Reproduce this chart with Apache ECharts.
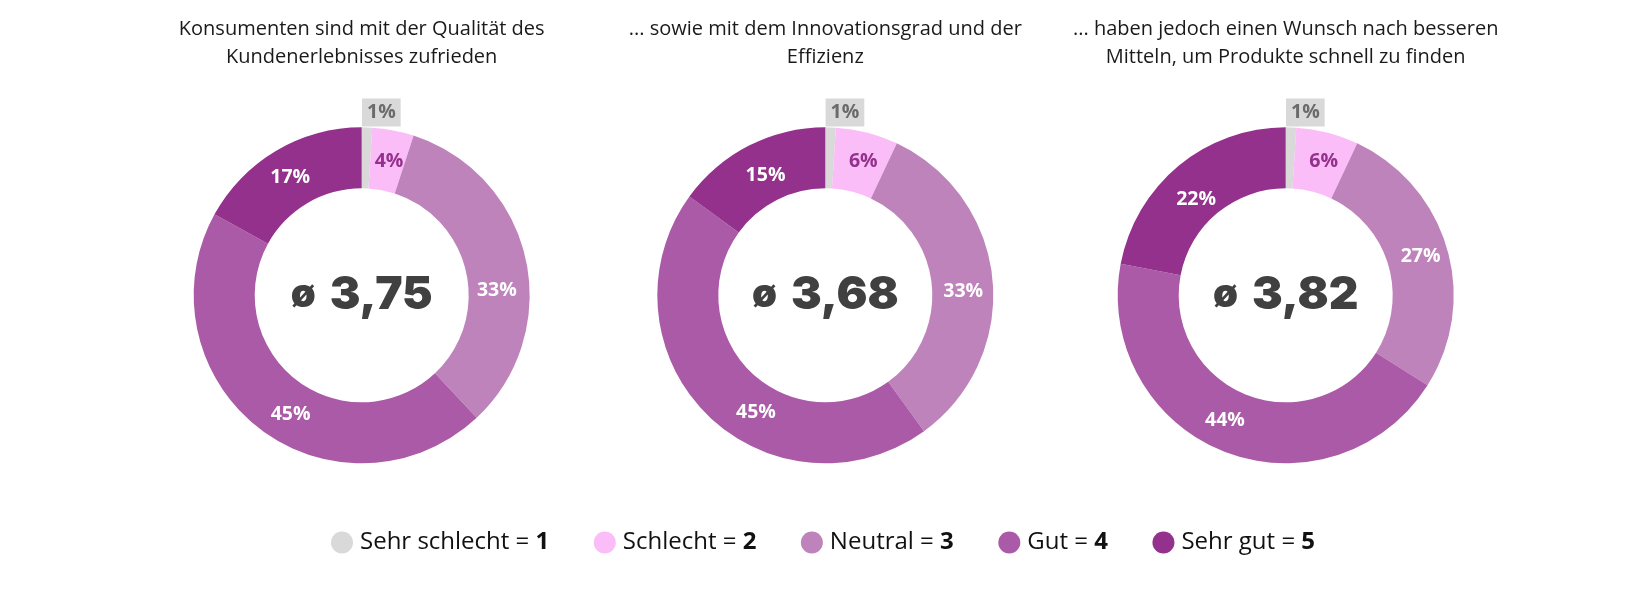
<!DOCTYPE html>
<html>
<head>
<meta charset="utf-8">
<script src="https://cdn.jsdelivr.net/npm/echarts@6/dist/echarts.min.js"></script>
<style>
  html, body { margin: 0; padding: 0; background: #fff; }
  #chart { width: 1650px; height: 592px; }
</style>
</head>
<body>
<div id="chart"></div>
<script>
// ---- data ----
const categories = ['Sehr schlecht', 'Schlecht', 'Neutral', 'Gut', 'Sehr gut'];
const scores = [1, 2, 3, 4, 5];
const titles = [
  'Konsumenten sind mit der Qualität des\nKundenerlebnisses zufrieden',
  '... sowie mit dem Innovationsgrad und der\nEffizienz',
  '... haben jedoch einen Wunsch nach besseren\nMitteln, um Produkte schnell zu finden'
];
const valuesQualitaet = [1, 4, 33, 45, 17];
const valuesInnovation = [1, 6, 33, 45, 15];
const valuesSuche = [1, 6, 27, 44, 22];
const averages = [3.75, 3.68, 3.82];

// ---- styles / layout ----
const colors = ['#d9d9d9', '#fbbdf7', '#bf83bb', '#aa5aa6', '#93318c'];
const labelColors = ['#6b6b6b', '#93318c', '#ffffff', '#ffffff', '#ffffff'];
const centersX = [361.7, 825.3, 1285.7];
const centerY = 295.3;
const FONT = 'Open Sans';
// small label nudges [dx, dy] per slice, per chart (layout only)
const labelNudges = [
  [[-5, 0], [1, 4], [-2, 26], [15, 8], [0, 3]],
  [[-5, 0], [3, 2], [-2, 9], [30, 18], [4, 5]],
  [[-5, 0], [3, 2], [0, 0], [-9, -5], [0, 12]]
];

const seriesValues = [valuesQualitaet, valuesInnovation, valuesSuche];

function buildData(vals) {
  return categories.map((name, i) => {
    const item = {
      name: name,
      value: vals[i],
      itemStyle: { color: colors[i] },
      label: { color: labelColors[i] }
    };
    if (i === 0) {
      item.label = {
        position: 'outside',
        color: labelColors[i],
        backgroundColor: '#d9d9d9',
        padding: [5, 5, 5, 5],
        lineHeight: 18,
        distanceToLabelLine: 0
      };
      item.labelLine = { show: false, length: 0, length2: 0 };
    }
    return item;
  });
}

const series = seriesValues.map((vals, k) => ({
  type: 'pie',
  center: [centersX[k], centerY],
  radius: [107, 168],
  startAngle: 90,
  clockwise: true,
  avoidLabelOverlap: false,
  silent: true,
  emphasis: { disabled: true },
  label: {
    show: true,
    position: 'inside',
    formatter: '{c}%',
    fontFamily: FONT,
    fontWeight: 'bold',
    fontSize: 19.5
  },
  labelLine: { show: false },
  labelLayout: function (p) {
    const n = labelNudges[k][p.dataIndex];
    if (p.dataIndex === 0) {
      return { dx: n[0], dy: -(p.labelRect.height / 2) - 1 };
    }
    return { dx: n[0], dy: n[1] };
  },
  data: buildData(vals)
}));

const titleComps = titles.map((t, k) => ({
  text: t,
  left: centersX[k],
  top: 15,
  padding: 0,
  textAlign: 'center',
  textStyle: {
    fontFamily: FONT,
    fontWeight: 'normal',
    fontSize: 20,
    lineHeight: 28,
    color: '#1a1a1a'
  }
}));

const centerComps = averages.map((a, k) => ({
  text: '{s|ø}{n|' + a.toFixed(2).replace('.', ',') + '}',
  left: centersX[k],
  top: centerY,
  padding: 0,
  textAlign: 'center',
  textVerticalAlign: 'middle',
  textStyle: {
    rich: {
      s: { fontFamily: 'Inter', fontWeight: 900, fontSize: 40, color: '#404040', padding: [0, 14, 0, 0] },
      n: { fontFamily: 'Inter', fontWeight: 900, fontSize: 46, color: '#404040' }
    }
  }
}));

const option = {
  animation: false,
  backgroundColor: '#ffffff',
  title: titleComps.concat(centerComps),
  legend: {
    data: categories,
    left: 331,
    top: 527.5,
    padding: 0,
    orient: 'horizontal',
    icon: 'circle',
    itemWidth: 26,
    itemHeight: 22,
    itemGap: 44.5,
    selectedMode: false,
    formatter: function (name) {
      return name + ' = {b|' + scores[categories.indexOf(name)] + '}';
    },
    textStyle: {
      fontFamily: FONT,
      fontSize: 24,
      lineHeight: 30,
      color: '#111111',
      rich: {
        b: { fontFamily: FONT, fontWeight: 'bold', fontSize: 24, lineHeight: 30, color: '#111111' }
      }
    }
  },
  series: series
};

const chart = echarts.init(document.getElementById('chart'), null, { renderer: 'canvas' });
chart.setOption(option);
</script>
</body>
</html>
